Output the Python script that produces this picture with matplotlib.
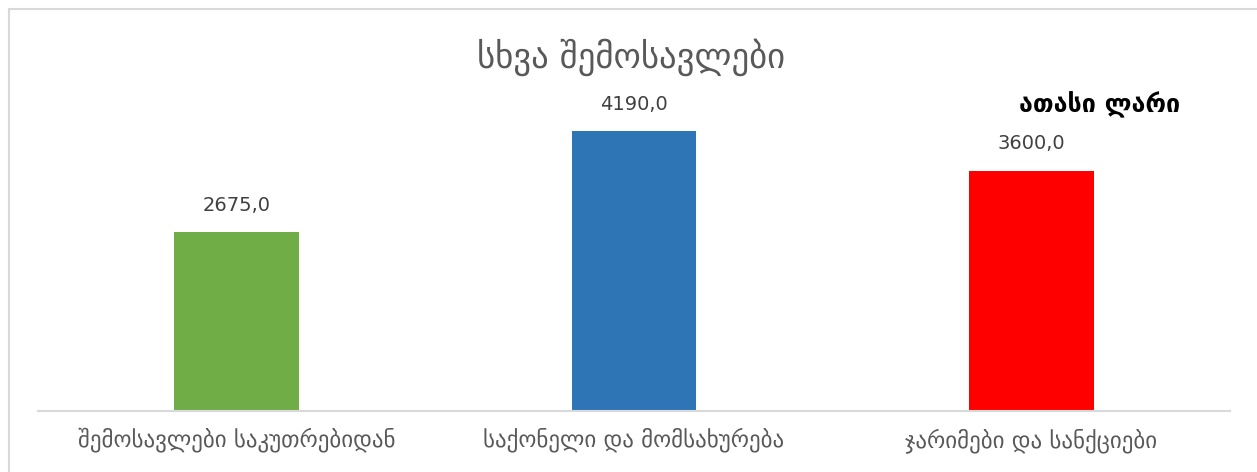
import matplotlib
matplotlib.use("Agg")
import matplotlib.pyplot as plt
from matplotlib.patches import Rectangle

categories = ["შემოსავლები საკუთრებიდან", "საქონელი და მომსახურება", "ჯარიმები და სანქციები"]
values = [2675.0, 4190.0, 3600.0]
colors = ["#70ad47", "#2e75b6", "#ff0000"]

W, H = 1257, 472
fig = plt.figure(figsize=(W / 100, H / 100), dpi=100)
ax = fig.add_axes([38 / W, (H - 411) / H, (1230 - 38) / W, (411 - 77) / H])

x = list(range(len(categories)))
ax.bar(x, values, width=0.314, color=colors, zorder=2)
for xi, v in zip(x, values):
    ax.text(xi, v + 260, "{:.1f}".format(v).replace(".", ","), ha="center", va="bottom",
            fontsize=14, color="#404040")

ax.set_xlim(-0.5, 2.5)
ax.set_ylim(0, 5000)
ax.set_yticks([])
ax.set_xticks(x)
ax.set_xticklabels(categories, fontsize=16.5, color="#595959")
ax.tick_params(axis="x", length=0, pad=12)
for s in ["top", "right", "left"]:
    ax.spines[s].set_visible(False)
ax.spines["bottom"].set_color("#d9d9d9")
ax.spines["bottom"].set_linewidth(1.5)

fig.text(631 / W, 1 - 57 / H, "სხვა შემოსავლები", ha="center", va="center",
         fontsize=25, color="#595959")
fig.text(1100 / W, 1 - 105 / H, "ათასი ლარი", ha="center", va="center",
         fontsize=18, fontweight="bold", color="black")

fig.patches.append(Rectangle((9 / W, -0.1), 1.2, 1 - 9 / H + 0.1, transform=fig.transFigure,
                             fill=False, edgecolor="#d9d9d9", linewidth=1.5))

fig.savefig("out.png", dpi=100)
